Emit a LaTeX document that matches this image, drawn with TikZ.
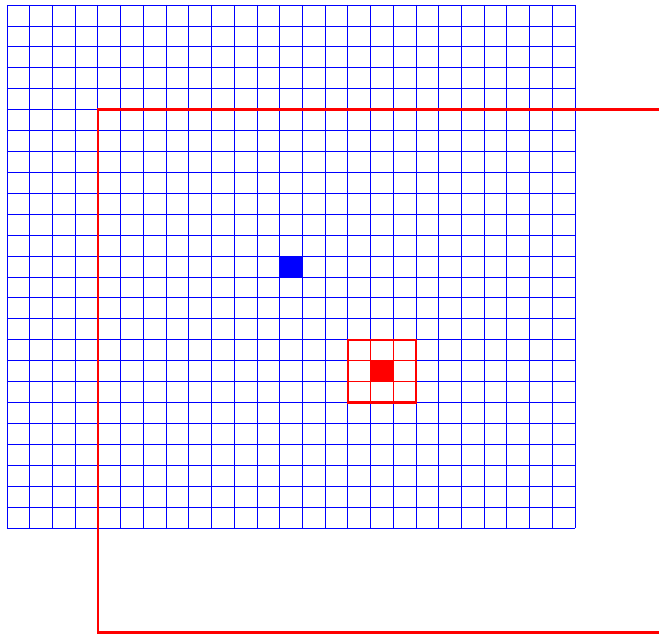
\documentclass[tikz,border=0pt]{standalone}
\begin{document}
\begin{tikzpicture}[
  x=22.72pt, y=-20.92pt,
  gridline/.style={draw=blue, line width=0.8pt},
  windowline/.style={draw=red, line width=1.3pt},
  windowbox/.style={draw=red, line width=2.2pt},
  frame/.style={draw=red, line width=2.4pt}
]
\clip (-0.308,-0.239) rectangle (28.697,30.067);
\fill[white] (-0.308,-0.239) rectangle (28.697,30.067);
% image grid
\foreach \i in {0,...,25} {
  \draw[gridline] (\i,0) -- (\i,25);
  \draw[gridline] (0,\i) -- (25,\i);
}
\fill[blue] (12,12) rectangle (13,13);
% 3x3 window
\fill[red] (16,17) rectangle (17,18);
\foreach \i in {16,17} {
  \draw[windowline] (\i,16) -- (\i,19);
}
\foreach \j in {17,18} {
  \draw[windowline] (15,\j) -- (18,\j);
}
\draw[windowbox] (15,16) rectangle (18,19);
% shifted frame
\draw[frame] (4,5) rectangle (29,30);
\end{tikzpicture}
\end{document}
